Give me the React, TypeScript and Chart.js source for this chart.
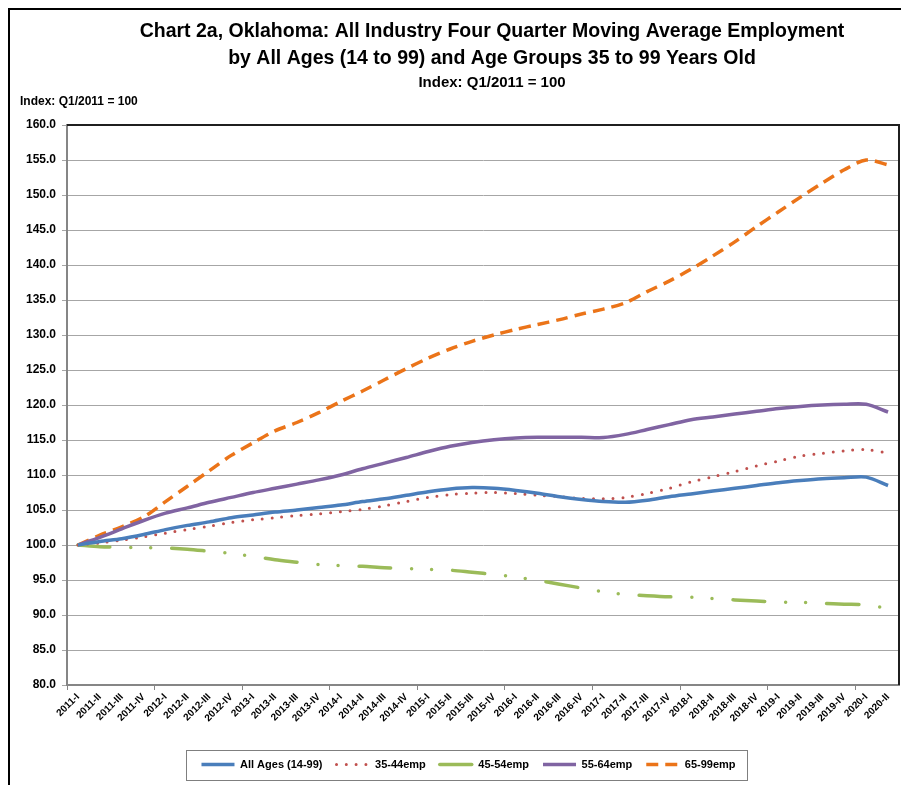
import React, { useEffect, useRef } from "react";
import { Chart, registerables } from "chart.js";

Chart.register(...registerables);

const quarters = [
  "2011-I", "2011-II", "2011-III", "2011-IV",
  "2012-I", "2012-II", "2012-III", "2012-IV",
  "2013-I", "2013-II", "2013-III", "2013-IV",
  "2014-I", "2014-II", "2014-III", "2014-IV",
  "2015-I", "2015-II", "2015-III", "2015-IV",
  "2016-I", "2016-II", "2016-III", "2016-IV",
  "2017-I", "2017-II", "2017-III", "2017-IV",
  "2018-I", "2018-II", "2018-III", "2018-IV",
  "2019-I", "2019-II", "2019-III", "2019-IV",
  "2020-I", "2020-II",
];

const allAges = [
  100, 100.5, 100.9, 101.5, 102.2, 102.8, 103.3, 103.9, 104.3, 104.7,
  105.0, 105.35, 105.7, 106.2, 106.6, 107.1, 107.6, 108.0, 108.2, 108.1,
  107.8, 107.4, 106.9, 106.5, 106.2, 106.1, 106.4, 106.9, 107.3, 107.7,
  108.1, 108.5, 108.9, 109.2, 109.45, 109.6, 109.7, 108.5,
];

const age35to44 = [
  100, 100.3, 100.7, 101.15, 101.7, 102.2, 102.7, 103.2, 103.6, 103.9,
  104.2, 104.45, 104.75, 105.1, 105.6, 106.2, 106.8, 107.2, 107.4, 107.5,
  107.35, 107.1, 106.9, 106.65, 106.6, 106.8, 107.35, 108.1, 109.0, 109.75,
  110.5, 111.3, 112.0, 112.7, 113.1, 113.45, 113.65, 113.1,
];

const age45to54 = [
  100, 99.75, 99.7, 99.6, 99.57, 99.4, 99.1, 98.8, 98.35, 97.9,
  97.55, 97.2, 97.05, 96.95, 96.75, 96.65, 96.5, 96.4, 96.1, 95.8,
  95.4, 94.95, 94.4, 93.85, 93.3, 92.95, 92.75, 92.6, 92.55, 92.35,
  92.15, 92.0, 91.85, 91.8, 91.65, 91.55, 91.45, 90.9,
];

const age55to64 = [
  100, 101.1, 102.3, 103.5, 104.55, 105.3, 106.1, 106.8, 107.5, 108.1,
  108.7, 109.3, 110.0, 110.9, 111.7, 112.5, 113.35, 114.1, 114.65, 115.05,
  115.3, 115.4, 115.4, 115.4, 115.35, 115.8, 116.5, 117.2, 117.9, 118.3,
  118.7, 119.1, 119.5, 119.8, 120.0, 120.1, 120.1, 119.0,
];

const age65to99 = [
  100, 101.4, 102.6, 104.0, 106.2, 108.4, 110.6, 112.8, 114.6, 116.3,
  117.5, 118.9, 120.5, 122.0, 123.6, 125.2, 126.7, 128.0, 129.1, 130.0,
  130.8, 131.5, 132.2, 133.0, 133.7, 134.6, 136.2, 137.7, 139.4, 141.3,
  143.3, 145.5, 147.6, 149.7, 151.7, 153.6, 155.0, 154.3,
];

const seriesNames = ["All Ages (14-99)", "35-44emp", "45-54emp", "55-64emp", "65-99emp"];

const titleLines = [
  "Chart 2a, Oklahoma: All Industry Four Quarter Moving Average Employment",
  "by All Ages (14 to 99) and Age Groups 35 to 99 Years Old",
];
const subtitleText = "Index: Q1/2011 = 100";
const axisLabelText = "Index: Q1/2011 = 100";

const yMin = 80;
const yMax = 160;
const yStep = 5;

const FONT = '"Liberation Sans", Arial, sans-serif';

const decorPlugin = {
  id: "decor",
  afterLayout(chart: any) {
    const lg = chart.legend;
    if (lg) {
      lg.left += 10;
      lg.right += 10;
    }
  },
  afterDraw(chart: any) {
    const { ctx, chartArea: a } = chart;
    ctx.save();
    // plot area top & right border
    ctx.strokeStyle = "#1f1f1f";
    ctx.lineWidth = 2;
    ctx.beginPath();
    ctx.moveTo(a.left, a.top);
    ctx.lineTo(a.right, a.top);
    ctx.lineTo(a.right, a.bottom);
    ctx.stroke();

    // titles
    ctx.fillStyle = "#000";
    ctx.textAlign = "center";
    ctx.textBaseline = "middle";
    ctx.font = `bold 19.5px ${FONT}`;
    ctx.fillText(titleLines[0], 482, 22);
    ctx.fillText(titleLines[1], 482, 49);
    ctx.font = `bold 15px ${FONT}`;
    ctx.fillText(subtitleText, 482, 73);
    ctx.textAlign = "left";
    ctx.font = `bold 12px ${FONT}`;
    ctx.fillText(axisLabelText, 10, 92);

    // legend frame
    const lg = chart.legend;
    const hb = lg && lg.legendHitBoxes;
    if (hb && hb.length) {
      let l = Infinity, r = -Infinity, cy = 0;
      hb.forEach((b: any) => {
        l = Math.min(l, b.left);
        r = Math.max(r, b.left + b.width);
        cy = b.top + b.height / 2;
      });
      ctx.strokeStyle = "#7f7f7f";
      ctx.lineWidth = 1;
      ctx.strokeRect(Math.round(l - 15) + 0.5, Math.round(cy - 15) + 0.5, Math.round(r - l + 27), 30);
    }
    ctx.restore();
  },
};

export default function App() {
  const canvasRef = useRef<HTMLCanvasElement | null>(null);

  useEffect(() => {
    const canvas = canvasRef.current;
    if (!canvas) return;
    Chart.defaults.font.family = FONT;

    const chart = new Chart(canvas, {
      type: "line",
      data: {
        labels: quarters,
        datasets: [
          {
            label: seriesNames[0],
            data: allAges,
            borderColor: "#4A7EBB",
            backgroundColor: "#4A7EBB",
            borderWidth: 3.5,
          },
          {
            label: seriesNames[1],
            data: age35to44,
            borderColor: "#C0504D",
            backgroundColor: "#C0504D",
            borderWidth: 3,
            borderDash: [0, 9.8],
            borderCapStyle: "round",
          },
          {
            label: seriesNames[2],
            data: age45to54,
            borderColor: "#9BBB59",
            backgroundColor: "#9BBB59",
            borderWidth: 3.5,
            borderDash: [32, 21, 0, 20, 0, 21],
            borderCapStyle: "round",
          },
          {
            label: seriesNames[3],
            data: age55to64,
            borderColor: "#8064A2",
            backgroundColor: "#8064A2",
            borderWidth: 3.5,
          },
          {
            label: seriesNames[4],
            data: age65to99,
            borderColor: "#EB7419",
            backgroundColor: "#EB7419",
            borderWidth: 3.5,
            borderDash: [12, 7],
          },
        ],
      },
      options: {
        animation: false,
        responsive: true,
        maintainAspectRatio: false,
        layout: { padding: { top: 115, left: 8, right: 2, bottom: 5 } },
        elements: {
          point: { radius: 0, hoverRadius: 0 },
          line: { tension: 0.3, fill: false },
        },
        plugins: {
          title: { display: false },
          tooltip: { enabled: false },
          legend: {
            position: "bottom",
            labels: {
              usePointStyle: true,
              pointStyle: "line",
              pointStyleWidth: 33,
              boxHeight: 11,
              padding: 14,
              color: "#000",
              font: { family: FONT, size: 11, weight: "bold" },
              generateLabels: (ch: any) => {
                const base = (Chart.defaults.plugins.legend.labels as any).generateLabels(ch);
                return base.map((it: any) => {
                  const ds: any = ch.data.datasets[it.datasetIndex];
                  return {
                    ...it,
                    pointStyle: "line",
                    strokeStyle: ds.borderColor,
                    fillStyle: ds.borderColor,
                    lineWidth: ds.borderWidth,
                    lineDash: ds.borderDash || [],
                    lineCap: ds.borderCapStyle || "butt",
                  };
                });
              },
            },
          },
        },
        scales: {
          x: {
            type: "category",
            offset: true,
            grid: {
              offset: true,
              drawOnChartArea: false,
              drawTicks: true,
              tickLength: 5,
              color: (c: any) => (c.index % 4 === 0 ? "#868686" : "rgba(0,0,0,0)"),
            },
            border: { display: true, color: "#868686", width: 2 },
            ticks: {
              autoSkip: false,
              maxRotation: 45,
              minRotation: 45,
              padding: 1,
              color: "#000",
              font: { family: FONT, size: 10, weight: "bold" },
            },
            afterFit(scale: any) {
              scale.height = 60;
            },
          },
          y: {
            min: yMin,
            max: yMax,
            ticks: {
              stepSize: yStep,
              padding: 6,
              color: "#000",
              font: { family: FONT, size: 12, weight: "bold" },
              callback: (v: any) => Number(v).toFixed(1),
            },
            grid: {
              color: "#a6a6a6",
              lineWidth: 1,
              drawTicks: true,
              tickLength: 5,
            },
            border: { display: true, color: "#868686", width: 2 },
            afterFit(scale: any) {
              scale.width = 49;
            },
          },
        },
      },
      plugins: [decorPlugin],
    });

    return () => {
      chart.destroy();
    };
  }, []);

  return (
    <div
      style={{
        width: 893,
        height: 777,
        borderLeft: "2px solid #000",
        borderTop: "2px solid #000",
        boxSizing: "border-box",
        background: "#fff",
      }}
    >
      <div style={{ position: "relative", width: 891, height: 775 }}>
        <canvas ref={canvasRef} />
      </div>
    </div>
  );
}
